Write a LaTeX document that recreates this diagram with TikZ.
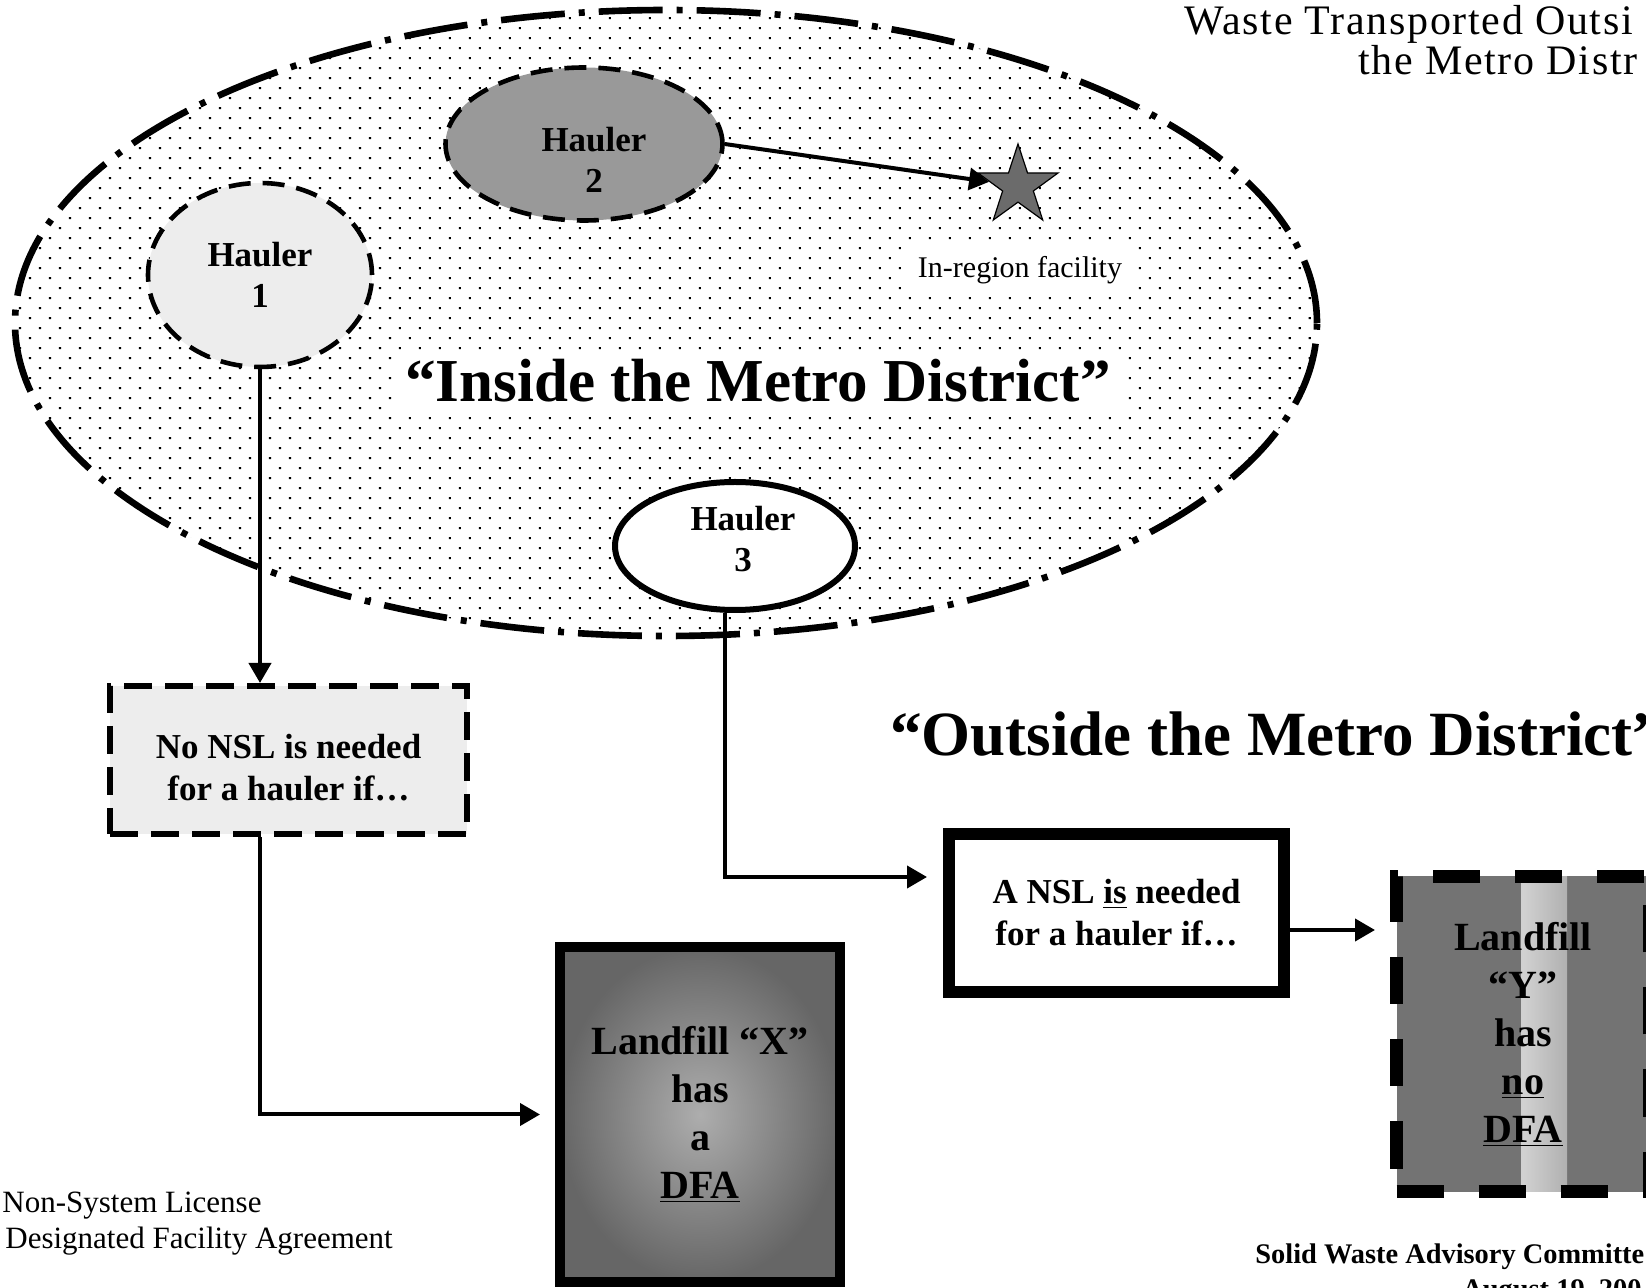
\documentclass[tikz,border=0pt]{standalone}
\usepackage{fontspec}
\setmainfont{Liberation Serif}
\newfontfamily\titlefont[LetterSpace=4]{Liberation Serif}
\usetikzlibrary{shapes.geometric,arrows.meta,patterns.meta,calc}
\tikzset{
  metro/.style={ellipse, draw, inner sep=0pt, line width=3.3pt,
    dash pattern=on 32pt off 7pt on 3pt off 7pt,
    pattern={Dots[radius=0.75pt,distance=7.07pt,angle=45]}, pattern color=black},
  hauler/.style={ellipse, draw, inner sep=0pt, align=center,
    font=\bfseries\fontsize{17.5}{20.5}\selectfont},
  haulerdash/.style={hauler, line width=2.3pt, dash pattern=on 11pt off 6pt},
  conn/.style={line width=2pt, -{Triangle[length=10pt,width=11pt]}},
  boxtext/.style={align=center, inner sep=0pt, font=\bfseries\fontsize{17.5}{21}\selectfont},
  landtext/.style={align=center, inner sep=0pt, font=\bfseries\fontsize{20}{24}\selectfont},
  plain/.style={inner sep=0pt}
}
\begin{document}
\begin{tikzpicture}[x=0.5pt,y=-0.5pt]
\useasboundingbox (0,0) rectangle (1646,1288);
\clip (0,0) rectangle (1646,1288);
\fill[white] (0,0) rectangle (1646,1288);

% big region
\node[metro, minimum width=651pt, minimum height=313pt] (metro) at (666,323) {};

% haulers
\node[haulerdash, fill=black!7, minimum width=112pt, minimum height=92pt] (h1) at (260,275) {Hauler\\1};
\node[haulerdash, fill=black!40, minimum width=138.5pt, minimum height=76.5pt,
  label={[align=center, font=\bfseries\fontsize{17.5}{20.5}\selectfont, xshift=5pt, yshift=-8pt]center:{Hauler\\2}}] (h2) at (584,144) {};
\node[hauler, fill=white, line width=3pt, minimum width=120pt, minimum height=64pt,
  label={[align=center, font=\bfseries\fontsize{17.5}{20.5}\selectfont, xshift=4pt, yshift=3.5pt]center:{Hauler\\3}}] (h3) at (735,546) {};

% in-region facility
\node[star, star points=5, star point ratio=2.6, minimum size=42pt, inner sep=0pt,
  fill=black!58, draw=black, line width=0.6pt] (star) at (1018,186) {};
\node[anchor=base, fill=white, inner xsep=7pt, inner ysep=6pt,
  font=\fontsize{15}{18}\selectfont] (inreg) at (1020,278) {In-region facility};
\draw[conn] (h2.east) -- (star);

% district labels
\node[anchor=base, fill=white, inner xsep=6pt, inner ysep=5pt,
  font=\bfseries\fontsize{30.5}{36}\selectfont] (inside) at (758,402) {“Inside the Metro District”};
\node[plain, anchor=base west, font=\bfseries\fontsize{31.5}{38}\selectfont] (outside) at (890,756) {“Outside the Metro District”};

% boxes
\node[draw, line width=3pt, dash pattern=on 14pt off 6.5pt, fill=black!7,
  minimum width=178.5pt, minimum height=74pt, inner sep=0pt,
  label={[boxtext, yshift=-4pt]center:{No NSL is needed\\for a hauler if…}}] (nonsl) at (288.5,760) {};
\node[boxtext, draw, line width=6pt, fill=white,
  minimum width=167.5pt, minimum height=79pt] (nsl) at (1116.5,913) {A NSL \underline{is} needed\\for a hauler if…};
\node[landtext, draw, line width=5pt, inner color=black!32, outer color=black!60,
  minimum width=140pt, minimum height=167.5pt] (lfx) at (700,1114.5) {Landfill “X”\\has\\a\\\underline{DFA}};
\node[landtext, draw, line width=6.5pt, dash pattern=on 23.5pt off 17.5pt, fill=black!55,
  minimum width=126.5pt, minimum height=157.5pt,
  path picture={\shade[left color=black!55, right color=black!55, middle color=black!18]
    ($(path picture bounding box.center)+(-2,-400)$) rectangle ($(path picture bounding box.center)+(44,400)$);}]
  (lfy) at (1523,1034) {Landfill\\“Y”\\has\\\underline{no}\\\underline{DFA}};

% connectors
\draw[conn] (h1.south) -- (h1.south |- nonsl.north);
\draw[conn, shorten >=7.5pt] (h1.south |- nonsl.south) |- (lfx.west);
\path ($(h3.south)+(-10,0)$) coordinate (h3out);
\path ($(nsl.west)+(0,-36)$) coordinate (nslin);
\draw[conn, shorten >=8pt] (h3out) |- (nslin);
\path ($(nsl.east)+(0,17)$) coordinate (nslout);
\draw[conn, shorten >=7.5pt] (nslout) -- (nslout -| lfy.west);

% title
\node[plain, anchor=base west, font=\titlefont\fontsize{21}{24}\selectfont] (t1) at (1184,35) {Waste Transported Outsi};
\node[plain, anchor=base west, font=\titlefont\fontsize{21}{24}\selectfont] (t2) at (1358,75) {the Metro Distr};

% footnotes
\node[plain, anchor=base west, font=\fontsize{15.5}{19}\selectfont] (fn1) at (2,1212) {Non-System License};
\node[plain, anchor=base west, font=\fontsize{15.5}{19}\selectfont] (fn2) at (5,1248) {Designated Facility Agreement};
\node[plain, anchor=base west, font=\bfseries\fontsize{14.2}{17}\selectfont] (sw1) at (1255,1263) {Solid Waste Advisory Committe};
\node[plain, anchor=base west, font=\bfseries\fontsize{14.2}{17}\selectfont] (sw2) at (1462,1298) {August 19, 200};
\end{tikzpicture}
\end{document}
